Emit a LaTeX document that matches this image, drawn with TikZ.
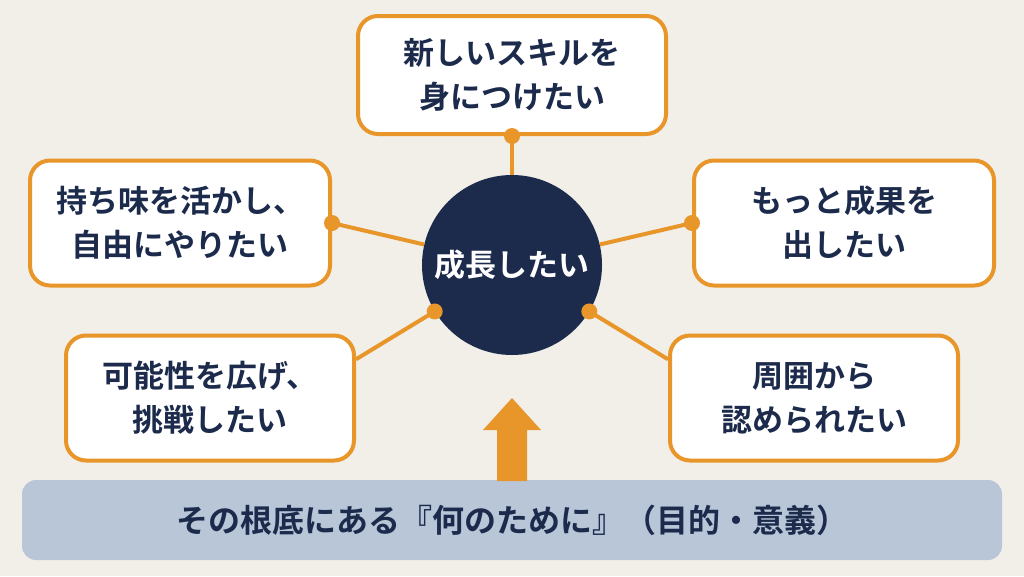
\documentclass[tikz,border=0pt]{standalone}
\usepackage{fontspec}
\usetikzlibrary{calc}
\newfontfamily\jpfont{Noto Sans CJK JP}[BoldFont={Noto Sans CJK JP Bold}]
\definecolor{bgcol}{HTML}{F2EFE9}
\definecolor{navy}{HTML}{1C2B4C}
\definecolor{orangec}{HTML}{E8962A}
\definecolor{barcol}{HTML}{B8C6D8}

\begin{document}
\begin{tikzpicture}[x=1pt, y=-1pt,
    wish/.style={draw=orangec, line width=4pt, rounded corners=20pt, fill=white,
                 align=center, font=\jpfont\bfseries\fontsize{31}{44}\selectfont, text=navy},
    link/.style={draw=orangec, line width=4pt},
    dot/.style={fill=orangec}]
  % 背景
  \useasboundingbox (0,0) rectangle (1024,576);
  \fill[bgcol] (0,0) rectangle (1024,576);

  % 中心の円
  \node[circle, fill=navy, minimum size=180pt, text=white,
        font=\jpfont\bfseries\fontsize{31}{36}\selectfont] (core) at (512,265) {成長したい};

  % 五つの願い
  \node[wish, minimum width=308pt, minimum height=118pt] (top) at (512,75) {新しいスキルを\\身につけたい};
  \node[wish, minimum width=300pt, minimum height=125pt] (lu) at (180,223) {持ち味を活かし、\\自由にやりたい};
  \node[wish, minimum width=300pt, minimum height=125pt] (ru) at (844,223) {もっと成果を\\出したい};
  \node[wish, minimum width=288pt, minimum height=125pt] (ll) at (210,398) {可能性を広げ、\\挑戦したい};
  \node[wish, minimum width=288pt, minimum height=125pt] (rl) at (814,398) {周囲から\\認められたい};

  % 接続線と点
  \coordinate (llend) at ($(ll.north east)!0.2!(ll.south east)$);
  \coordinate (rlend) at ($(rl.north west)!0.2!(rl.south west)$);
  \draw[link] (top.south) -- (core);
  \draw[link] (lu.east) -- (core);
  \draw[link] (ru.west) -- (core);
  \draw[link] (core.211) -- (llend);
  \draw[link] (core.329) -- (rlend);
  \fill[dot] (top.south) circle (8);
  \fill[dot] (lu.east) circle (8);
  \fill[dot] (ru.west) circle (8);
  \fill[dot] (core.211) circle (8);
  \fill[dot] (core.329) circle (8);

  % 下の帯
  \node[fill=barcol, rounded corners=14pt, minimum width=980pt, minimum height=80pt,
        text=navy, font=\jpfont\bfseries\fontsize{32}{36}\selectfont] (base) at (512,520)
        {その根底にある『何のために』（目的・意義）};

  % 上向きの矢印
  \fill[orangec] (497,481) -- (497,430) -- (483,430) -- (512,398) -- (541,430)
                 -- (527,430) -- (527,481) -- cycle;
\end{tikzpicture}
\end{document}
